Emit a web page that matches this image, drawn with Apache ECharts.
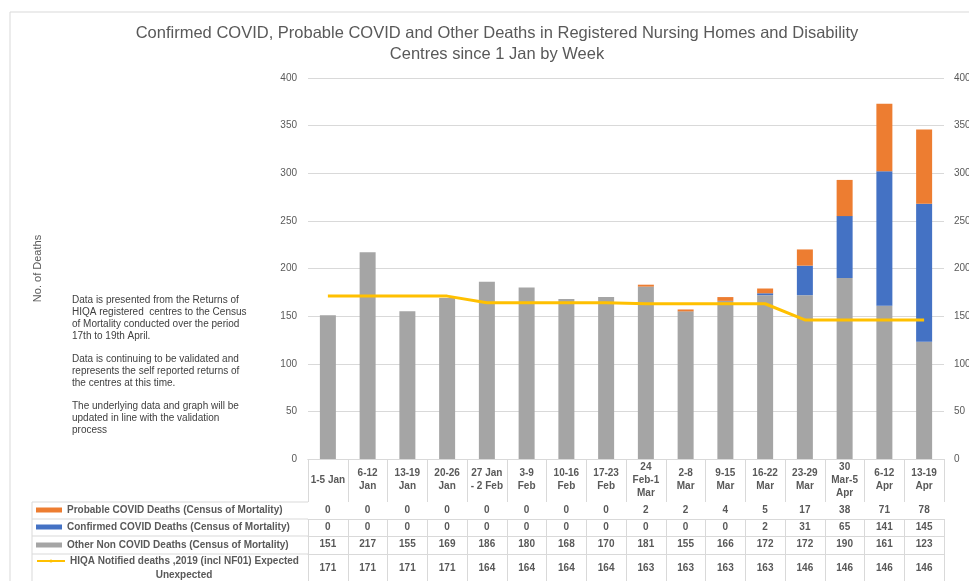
<!DOCTYPE html>
<html>
<head>
<meta charset="utf-8">
<script src="https://cdn.jsdelivr.net/npm/echarts@6/dist/echarts.min.js"></script>
<style>html,body{margin:0;padding:0;background:#fff;}#c{width:969px;height:581px;}</style>
</head>
<body>
<div id="c"></div>
<script>
const categories = ['1-5 Jan','6-12\nJan','13-19\nJan','20-26\nJan','27 Jan\n- 2 Feb','3-9\nFeb','10-16\nFeb','17-23\nFeb','24\nFeb-1\nMar','2-8\nMar','9-15\nMar','16-22\nMar','23-29\nMar','30\nMar-5\nApr','6-12\nApr','13-19\nApr'];
const probable  = [0,0,0,0,0,0,0,0,2,2,4,5,17,38,71,78];
const confirmed = [0,0,0,0,0,0,0,0,0,0,0,2,31,65,141,145];
const other     = [151,217,155,169,186,180,168,170,181,155,166,172,172,190,161,123];
const hiqa      = [171,171,171,171,164,164,164,164,163,163,163,163,146,146,146,146];
const yTicks = {min: 0, max: 400, interval: 50};

const nameProbable = 'Probable COVID Deaths (Census of Mortality)';
const nameConfirmed = 'Confirmed COVID Deaths (Census of Mortality)';
const nameOther = 'Other Non COVID Deaths (Census of Mortality)';
const nameHiqa = 'HIQA Notified deaths ,2019 (incl NF01) Expected Unexpected';

const FONT = 'Liberation Sans';
const gridCol = '#D9D9D9';
const txt = '#595959';

const chart = echarts.init(document.getElementById('c'), null, {renderer: 'canvas'});

function rowAxis(values, offset, tickLen, margin) {
  return {
    type: 'category', gridIndex: 0, position: 'bottom', offset: offset,
    data: categories, boundaryGap: true,
    axisLine: {show: true, lineStyle: {color: gridCol, width: 1}},
    axisTick: {show: true, interval: 0, length: tickLen, lineStyle: {color: gridCol}},
    axisLabel: {interval: 0, margin: margin, verticalAlign: 'middle', fontFamily: FONT, fontSize: 10, fontWeight: 'bold', color: txt,
      formatter: (v, i) => String(values[i])},
    splitLine: {show: false}
  };
}

function rowLegend(name, top, icon, w, h) {
  return {
    data: [{name: name, icon: icon}], left: 36, top: top, orient: 'horizontal', padding: 0,
    itemWidth: w, itemHeight: h, itemGap: 0, selectedMode: false,
    textStyle: {fontFamily: FONT, fontSize: 10, fontWeight: 'bold', color: txt, lineHeight: 12}
  };
}

const option = {
  backgroundColor: '#fff',
  animation: false,
  title: {
    text: 'Confirmed COVID, Probable COVID and Other Deaths in Registered Nursing Homes and Disability\nCentres since 1 Jan by Week',
    left: 497, textAlign: 'center', top: 23, padding: 0,
    textStyle: {fontFamily: FONT, fontSize: 16.5, fontWeight: 'normal', color: txt, lineHeight: 21}
  },
  legend: [
    rowLegend(nameProbable, 504, 'rect', 26, 5),
    rowLegend(nameConfirmed, 521, 'rect', 26, 5),
    rowLegend(nameOther, 539, 'rect', 26, 5),
    Object.assign(rowLegend(nameHiqa, 555, null, 28, 4), {
      data: [{name: nameHiqa}],
      formatter: () => 'HIQA Notified deaths ,2019 (incl NF01) Expected'
    })
  ],
  grid: {left: 308, right: 25, top: 78, bottom: 122, containLabel: false, outerBoundsMode: 'none'},
  xAxis: [
    {
      type: 'category', data: categories, boundaryGap: true, position: 'bottom',
      axisLine: {show: true, lineStyle: {color: gridCol}},
      axisTick: {show: true, interval: 0, length: 43, lineStyle: {color: gridCol}},
      axisLabel: {interval: 0, margin: 21, verticalAlign: 'middle', fontFamily: FONT, fontSize: 10, fontWeight: 'bold', color: txt, lineHeight: 13}
    },
    rowAxis(probable, 43, 17, 8.5),
    rowAxis(confirmed, 60, 17, 8),
    rowAxis(other, 77, 18, 8.5),
    rowAxis(hiqa, 95, 30, 14)
  ],
  yAxis: [
    {
      type: 'value', min: yTicks.min, max: yTicks.max, interval: yTicks.interval,
      name: 'No. of Deaths', nameLocation: 'middle', nameGap: 265, nameRotate: 90,
      nameTextStyle: {fontFamily: FONT, fontSize: 11, color: txt},
      axisLine: {show: false}, axisTick: {show: false},
      axisLabel: {fontFamily: FONT, fontSize: 10, color: txt, margin: 11},
      splitLine: {show: true, lineStyle: {color: gridCol, width: 1}}
    },
    {
      type: 'value', min: yTicks.min, max: yTicks.max, interval: yTicks.interval, position: 'right',
      axisLine: {show: false}, axisTick: {show: false},
      axisLabel: {fontFamily: FONT, fontSize: 10, color: txt, margin: 10},
      splitLine: {show: false}
    }
  ],
  series: [
    {name: nameOther, type: 'bar', stack: 'd', data: other, barWidth: 16, itemStyle: {color: '#A5A5A5'}},
    {name: nameConfirmed, type: 'bar', stack: 'd', data: confirmed, barWidth: 16, itemStyle: {color: '#4472C4'}},
    {name: nameProbable, type: 'bar', stack: 'd', data: probable, barWidth: 16, itemStyle: {color: '#ED7D31'}},
    {name: nameHiqa, type: 'line', data: hiqa, symbol: 'none', z: 5,
      lineStyle: {color: '#FFC000', width: 3}, itemStyle: {color: '#FFC000'}}
  ],
  graphic: [
    {type: 'rect', shape: {x: 10, y: 12, width: 1000, height: 700}, style: {fill: 'none', stroke: gridCol, lineWidth: 1}, silent: true, z: -1},
    {type: 'line', shape: {x1: 32, y1: 502, x2: 308, y2: 502}, style: {stroke: gridCol}},
    {type: 'line', shape: {x1: 32, y1: 519, x2: 308, y2: 519}, style: {stroke: gridCol}},
    {type: 'line', shape: {x1: 32, y1: 536, x2: 308, y2: 536}, style: {stroke: gridCol}},
    {type: 'line', shape: {x1: 32, y1: 554, x2: 308, y2: 554}, style: {stroke: gridCol}},
    {type: 'line', shape: {x1: 32, y1: 502, x2: 32, y2: 590}, style: {stroke: gridCol}},
    {type: 'text', x: 184, y: 575, style: {text: 'Unexpected', fontFamily: FONT, fontSize: 10, fontWeight: 'bold', fill: txt, align: 'center', verticalAlign: 'middle'}},
    {type: 'text', x: 72, y: 294, style: {text: 'Data is presented from the Returns of\nHIQA registered  centres to the Census\nof Mortality conducted over the period\n17th to 19th April.', fontFamily: FONT, fontSize: 10, lineHeight: 12, fill: '#404040'}},
    {type: 'text', x: 72, y: 353, style: {text: 'Data is continuing to be validated and\nrepresents the self reported returns of\nthe centres at this time.', fontFamily: FONT, fontSize: 10, lineHeight: 12, fill: '#404040'}},
    {type: 'text', x: 72, y: 400.5, style: {text: 'The underlying data and graph will be\nupdated in line with the validation\nprocess', fontFamily: FONT, fontSize: 10, lineHeight: 12, fill: '#404040'}}
  ]
};
chart.setOption(option);
</script>
</body>
</html>
